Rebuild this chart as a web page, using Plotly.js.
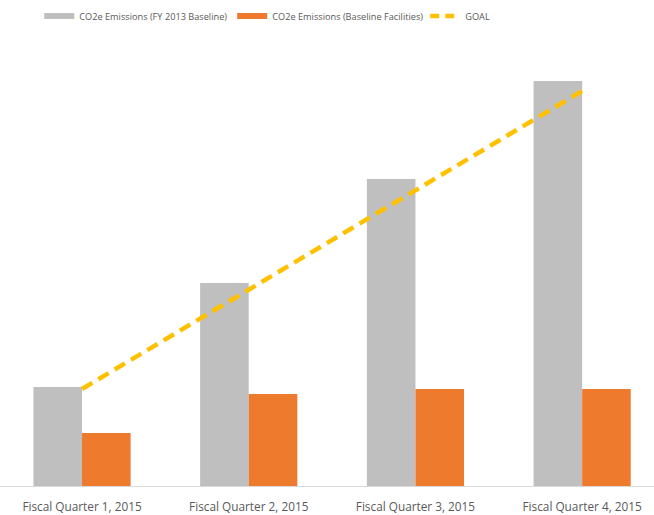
<!DOCTYPE html>
<html>
<head>
<meta charset="utf-8">
<script src="https://cdn.plot.ly/plotly-3.0.1.min.js"></script>
<style>
  html, body { margin: 0; padding: 0; background: #fff; }
  #chart { width: 654px; height: 515px; }
</style>
</head>
<body>
<div id="chart"></div>
<script>
const categories = ["Fiscal Quarter 1, 2015", "Fiscal Quarter 2, 2015", "Fiscal Quarter 3, 2015", "Fiscal Quarter 4, 2015"];
const baselineFY2013 = [99, 203, 307, 405];
const baselineFacilities = [53, 92, 97, 97];
const goal = [97, 196, 295, 395];
const seriesNames = ["CO2e Emissions (FY 2013 Baseline)", "CO2e Emissions (Baseline Facilities)", "GOAL"];
const seriesColors = ["#BFBFBF", "#EE7A2E", "#FFC000"];

const traces = [
  {
    type: "bar",
    name: seriesNames[0],
    x: categories,
    y: baselineFY2013,
    marker: { color: seriesColors[0] },
    showlegend: false,
    legendgroup: "a",
    hoverinfo: "skip"
  },
  {
    type: "bar",
    name: seriesNames[1],
    x: categories,
    y: baselineFacilities,
    marker: { color: seriesColors[1] },
    showlegend: false,
    legendgroup: "b",
    hoverinfo: "skip"
  },
  {
    type: "scatter",
    mode: "lines",
    name: seriesNames[2],
    x: categories,
    y: goal,
    line: { color: seriesColors[2], width: 4.5, dash: "12px,7px" },
    showlegend: false,
    legendgroup: "c",
    hoverinfo: "skip"
  },
  // legend-only entries (wide rectangular swatches, as in the reference)
  {
    type: "scatter", mode: "lines", name: seriesNames[0],
    x: [null], y: [null], legendgroup: "a",
    line: { color: seriesColors[0], width: 6 }, hoverinfo: "skip"
  },
  {
    type: "scatter", mode: "lines", name: seriesNames[1],
    x: [null], y: [null], legendgroup: "b",
    line: { color: seriesColors[1], width: 6 }, hoverinfo: "skip"
  },
  {
    type: "scatter", mode: "lines", name: seriesNames[2],
    x: [null], y: [null], legendgroup: "c",
    line: { color: seriesColors[2], width: 4.5, dash: "9px,6px" }, hoverinfo: "skip"
  }
];

const layout = {
  width: 654,
  height: 515,
  margin: { l: 0, r: 0, t: 40, b: 29, pad: 0 },
  paper_bgcolor: "#ffffff",
  plot_bgcolor: "#ffffff",
  font: { family: "Open Sans, sans-serif", color: "#595959", size: 11 },
  barmode: "group",
  bargap: 0.417,
  bargroupgap: 0,
  showlegend: true,
  legend: {
    orientation: "h",
    x: 0.06, xanchor: "left",
    y: 0.969, yanchor: "middle",
    yref: "container",
    font: { size: 9.2, color: "#595959" },
    itemwidth: 30,
    entrywidth: 148,
    entrywidthmode: "pixels",
    traceorder: "normal"
  },
  xaxis: {
    type: "category",
    range: [-0.492, 3.431],
    showgrid: false,
    zeroline: false,
    showline: false,
    ticks: "",
    ticklabelstandoff: 12,
    automargin: false,
    tickfont: { size: 11.8, color: "#595959" },
    fixedrange: true
  },
  yaxis: {
    range: [0, 446],
    showgrid: false,
    zeroline: true,
    zerolinecolor: "#D9D9D9",
    zerolinewidth: 1,
    showticklabels: false,
    ticks: "",
    fixedrange: true
  }
};

Plotly.newPlot("chart", traces, layout, { displayModeBar: false, staticPlot: true });
</script>
</body>
</html>
